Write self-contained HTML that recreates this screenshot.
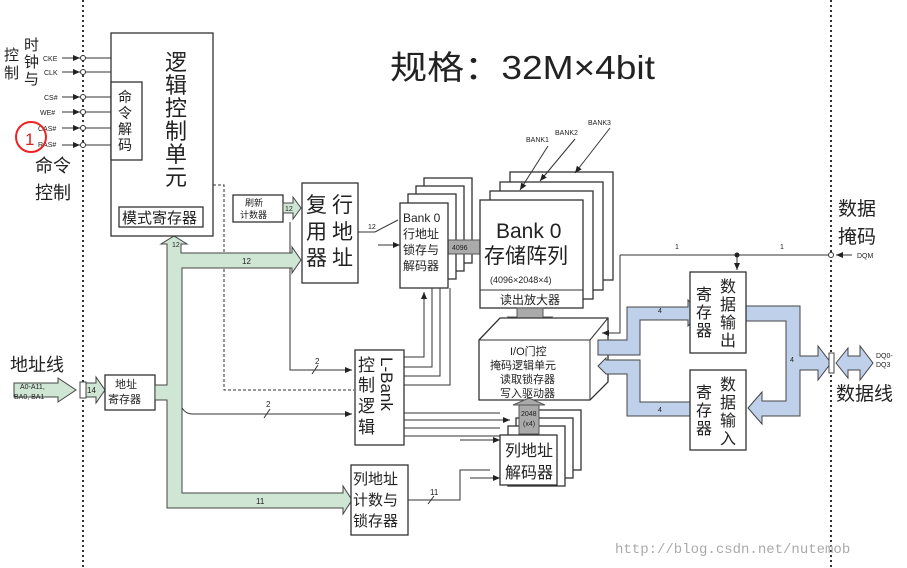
<!DOCTYPE html>
<html><head><meta charset="utf-8"><style>
body{margin:0;background:#fff}
svg{display:block}
text{font-family:"Liberation Sans","Noto Sans CJK SC",sans-serif;fill:#222}
.s{font-size:7px}
.b{fill:#fff;stroke:#333;stroke-width:1.3}
.l{stroke:#333;stroke-width:1;fill:none}
.g{fill:#cfe6d5;stroke:#444;stroke-width:1}
.bl{fill:#bfd0ea;stroke:#444;stroke-width:1}
.gr{fill:#aaa;stroke:#555;stroke-width:1}
</style></head><body>
<svg width="907" height="568" viewBox="0 0 907 568" xmlns="http://www.w3.org/2000/svg">
<defs><marker id="a" markerWidth="8" markerHeight="8" refX="7" refY="4" orient="auto"><path d="M0,1 L7,4 L0,7z" fill="#222"/></marker></defs>
<line x1="83" y1="0" x2="83" y2="568" stroke="#333" stroke-width="2" stroke-dasharray="2,3"/>
<line x1="831" y1="0" x2="831" y2="568" stroke="#333" stroke-width="2" stroke-dasharray="2,3"/>
<text x="390" y="79" font-size="33" textLength="265" lengthAdjust="spacingAndGlyphs">规格：32M×4bit</text>
<text x="4" y="60" font-size="15">控</text><text x="4" y="78" font-size="15">制</text>
<text x="24" y="50" font-size="15">时</text><text x="24" y="67" font-size="15">钟</text><text x="24" y="84" font-size="15">与</text>
<g class="s">
<text x="43" y="61">CKE</text><text x="44" y="75">CLK</text><text x="44" y="100">CS#</text><text x="40" y="115">WE#</text><text x="38" y="131">CAS#</text><text x="38" y="147">RAS#</text>
</g>
<g class="l" marker-end="url(#a)">
<line x1="62" y1="58" x2="80" y2="58"/><line x1="62" y1="72" x2="80" y2="72"/><line x1="62" y1="97" x2="80" y2="97"/><line x1="62" y1="112" x2="80" y2="112"/><line x1="62" y1="128" x2="80" y2="128"/><line x1="62" y1="145" x2="80" y2="145"/>
</g>
<g class="l"><line x1="86" y1="58" x2="111" y2="58"/><line x1="86" y1="72" x2="111" y2="72"/><line x1="86" y1="97" x2="111" y2="97"/><line x1="86" y1="112" x2="111" y2="112"/><line x1="86" y1="128" x2="111" y2="128"/><line x1="86" y1="145" x2="111" y2="145"/></g>
<g fill="#fff" stroke="#333"><circle cx="83" cy="58" r="2.5"/><circle cx="83" cy="72" r="2.5"/><circle cx="83" cy="97" r="2.5"/><circle cx="83" cy="112" r="2.5"/><circle cx="83" cy="128" r="2.5"/><circle cx="83" cy="145" r="2.5"/></g>
<circle cx="31" cy="137" r="15" fill="none" stroke="#e22" stroke-width="2"/>
<text x="25" y="145" font-size="17" style="fill:#d22">1</text>
<text x="35" y="172" font-size="18">命令</text><text x="35" y="199" font-size="18">控制</text>
<rect class="b" x="111" y="33" width="102" height="203"/>
<rect class="b" x="111" y="82" width="31" height="78"/>
<g font-size="14"><text x="118" y="102">命</text><text x="118" y="118">令</text><text x="118" y="134">解</text><text x="118" y="150">码</text></g>
<g font-size="22"><text x="165" y="70">逻</text><text x="165" y="93">辑</text><text x="165" y="116">控</text><text x="165" y="139">制</text><text x="165" y="162">单</text><text x="165" y="185">元</text></g>
<rect class="b" x="119" y="207" width="84" height="20"/>
<text x="122" y="223" font-size="15">模式寄存器</text>
<path d="M213,185 H224 V390 H354" fill="none" stroke="#333" stroke-dasharray="3,2"/>
<rect class="b" x="233" y="195" width="50" height="27"/>
<text x="245" y="206" font-size="9">刷新</text><text x="240" y="218" font-size="9">计数器</text>
<path class="g" d="M283,203 H293 V197 L301,208 L293,219 V213 H283z"/>
<text x="285" y="211" font-size="7">12</text>
<path class="l" d="M290,222 V370 H352" marker-end="url(#a)"/>
<text x="315" y="364" font-size="8">2</text><line class="l" x1="312" y1="374" x2="318" y2="365"/>
<rect class="b" x="302" y="183" width="56" height="100"/>
<g font-size="21"><text x="306" y="212">复</text><text x="306" y="239">用</text><text x="306" y="265">器</text><text x="332" y="212">行</text><text x="332" y="239">地</text><text x="332" y="265">址</text></g>
<path class="g" d="M14,383 L58,383 L58,378 L76,390 L58,402 L58,397 L14,397z"/>
<rect x="80" y="382" width="6" height="16" fill="#fff" stroke="#444"/>
<path class="g" d="M86,383 H96 V377 L105,390 L96,403 V397 H86z"/>
<text x="87" y="393" font-size="8">14</text>
<rect class="b" x="105" y="375" width="50" height="35"/>
<text x="115" y="388" font-size="11">地址</text><text x="108" y="403" font-size="11">寄存器</text>
<path class="g" d="M155,385 H167 V244 H161 L174,236 L187,244 H181 V253 H292 V247 L301,260 L292,273 V268 H182 V493 H343 V486 L352,500 L343,514 V508 H167 V400 H155z"/>
<text x="172" y="247" font-size="7">12</text>
<text x="242" y="264" font-size="8">12</text>
<text x="256" y="504" font-size="8">11</text>
<path class="l" d="M182,408 Q186,414 192,414 H352" marker-end="url(#a)"/>
<text x="266" y="407" font-size="8">2</text><line class="l" x1="264" y1="418" x2="270" y2="409"/>
<text x="10" y="371" font-size="18">地址线</text>
<text x="20" y="389" font-size="7">A0-A11,</text><text x="14" y="399" font-size="7">BA0, BA1</text>
<rect class="b" x="355" y="350" width="49" height="95"/>
<g font-size="17"><text x="358" y="371">控</text><text x="358" y="391">制</text><text x="358" y="412">逻</text><text x="358" y="433">辑</text></g>
<text x="0" y="0" font-size="17" transform="translate(381,357) rotate(90)">L-Bank</text>
<g class="l"><path d="M404,357 H424 V292" marker-end="url(#a)"/><path d="M404,367 H432 V288"/><path d="M404,376 H440 V288"/><path d="M404,385 H450 V288"/>
<path d="M404,413 H500"/><path d="M404,420 H500"/><path d="M404,428 H500"/><path d="M404,436 H500"/></g>
<rect class="b" x="351" y="465" width="57" height="70"/>
<g font-size="15"><text x="353" y="484">列地址</text><text x="353" y="505">计数与</text><text x="353" y="526">锁存器</text></g>
<path class="l" d="M408,500 H460 V470 H490"/>
<text x="430" y="495" font-size="8">11</text><line class="l" x1="428" y1="504" x2="434" y2="496"/>
<rect class="b" x="424" y="178" width="48" height="85"/>
<rect class="b" x="416" y="186" width="48" height="85"/>
<rect class="b" x="408" y="194" width="48" height="85"/>
<rect class="gr" x="448" y="240" width="32" height="14"/>
<rect class="b" x="400" y="203" width="48" height="85"/>
<path class="l" d="M358,232 H375"/><path class="l" d="M375,232 L398,220"/><path class="l" d="M378,245 H400" marker-end="url(#a)"/>
<text x="368" y="229" font-size="7">12</text>
<text x="403" y="222" font-size="12">Bank 0</text>
<g font-size="12"><text x="403" y="238">行地址</text><text x="403" y="254">锁存与</text><text x="403" y="270">解码器</text></g>
<text x="452" y="250" font-size="7">4096</text>
<rect class="b" x="510" y="172" width="103" height="108"/>
<rect class="b" x="500" y="182" width="103" height="108"/>
<rect class="b" x="490" y="191" width="103" height="108"/>
<rect class="b" x="480" y="200" width="103" height="108"/>
<line class="l" x1="480" y1="290" x2="583" y2="290"/>
<text x="496" y="238" font-size="21">Bank 0</text>
<text x="484" y="263" font-size="21">存储阵列</text>
<text x="490" y="283" font-size="9">(4096×2048×4)</text>
<text x="500" y="304" font-size="12">读出放大器</text>
<g class="s"><text x="526" y="142">BANK1</text><text x="555" y="135">BANK2</text><text x="588" y="125">BANK3</text></g>
<g class="l"><path d="M548,146 L520,190" marker-end="url(#a)"/><path d="M575,139 L540,181" marker-end="url(#a)"/><path d="M610,128 L575,173" marker-end="url(#a)"/></g>
<path class="gr" d="M517,308 H543 V317 H552 L530,333 L508,317 H517z"/>
<text x="520" y="325" font-size="7">4096</text>
<path class="b" d="M479,340 L500,318 H608 V382 L590,400 H479z"/>
<path class="l" d="M479,340 H590 V400 M590,340 L608,318"/>
<g font-size="11"><text x="510" y="355">I/O门控</text><text x="490" y="369">掩码逻辑单元</text><text x="500" y="383">读取锁存器</text><text x="500" y="397">写入驱动器</text></g>
<rect class="b" x="524" y="410" width="57" height="60"/>
<rect class="b" x="516" y="418" width="57" height="60"/>
<rect class="b" x="508" y="426" width="57" height="60"/>
<rect class="gr" x="519" y="404" width="20" height="30"/>
<path class="gr" d="M513,405 L529,398 L545,405z"/>
<text x="521" y="416" font-size="7">2048</text><text x="523" y="426" font-size="7">(x4)</text>
<rect class="b" x="500" y="435" width="57" height="50"/>
<g font-size="16"><text x="505" y="456">列地址</text><text x="505" y="478">解码器</text></g>
<g class="l" marker-end="url(#a)"><path d="M460,420 H510"/><path d="M460,440 H500"/><path d="M470,478 H500"/></g>
<path class="l" d="M620,255 H829 M620,255 V333 H602" marker-end="url(#a)"/>
<line class="l" x1="737" y1="255" x2="737" y2="270" marker-end="url(#a)"/>
<circle cx="737" cy="255" r="2.5" fill="#222"/>
<circle cx="831" cy="255" r="2.5" fill="#fff" stroke="#333"/>
<line class="l" x1="852" y1="255" x2="836" y2="255" marker-end="url(#a)"/>
<text x="857" y="258" class="s">DQM</text>
<text x="675" y="249" font-size="7">1</text><text x="780" y="249" font-size="7">1</text>
<text x="838" y="215" font-size="19">数据</text><text x="838" y="243" font-size="19">掩码</text>
<!-- blue bus -->
<path class="bl" d="M598,340 H627 V307 H688 L688,300 L700,313 L688,326 V320 H640 V355 H598z"/>
<path class="bl" d="M746,306 H800 V356 H818 V346 L831,363 L818,380 V370 H800 V416 H762 V424 L748,408 L762,392 V401 H786 V321 H746z"/>
<path class="bl" d="M598,366 L606,358 V360 H640 V402 H690 V416 H627 V374 H606z"/>
<path class="bl" d="M836,363 L848,348 V356 H860 V346 L873,363 L860,380 V370 H848 V378z"/>
<rect x="829" y="353" width="5" height="20" fill="#fff" stroke="#444"/>
<text x="658" y="313" font-size="7">4</text><text x="658" y="412" font-size="7">4</text><text x="790" y="362" font-size="7">4</text>
<text x="876" y="358" class="s">DQ0-</text><text x="876" y="367" class="s">DQ3</text>
<text x="836" y="400" font-size="19">数据线</text>
<rect class="b" x="690" y="272" width="56" height="81"/>
<g font-size="16"><text x="696" y="300">寄</text><text x="696" y="318">存</text><text x="696" y="336">器</text><text x="720" y="292">数</text><text x="720" y="310">据</text><text x="720" y="328">输</text><text x="720" y="346">出</text></g>
<rect class="b" x="690" y="370" width="56" height="80"/>
<g font-size="16"><text x="696" y="398">寄</text><text x="696" y="416">存</text><text x="696" y="434">器</text><text x="720" y="390">数</text><text x="720" y="408">据</text><text x="720" y="426">输</text><text x="720" y="444">入</text></g>
<text x="615" y="553" font-size="14" style="fill:#aaa;font-family:'Liberation Mono',monospace">http://blog.csdn.net/nutemob</text>
</svg>
</body></html>
